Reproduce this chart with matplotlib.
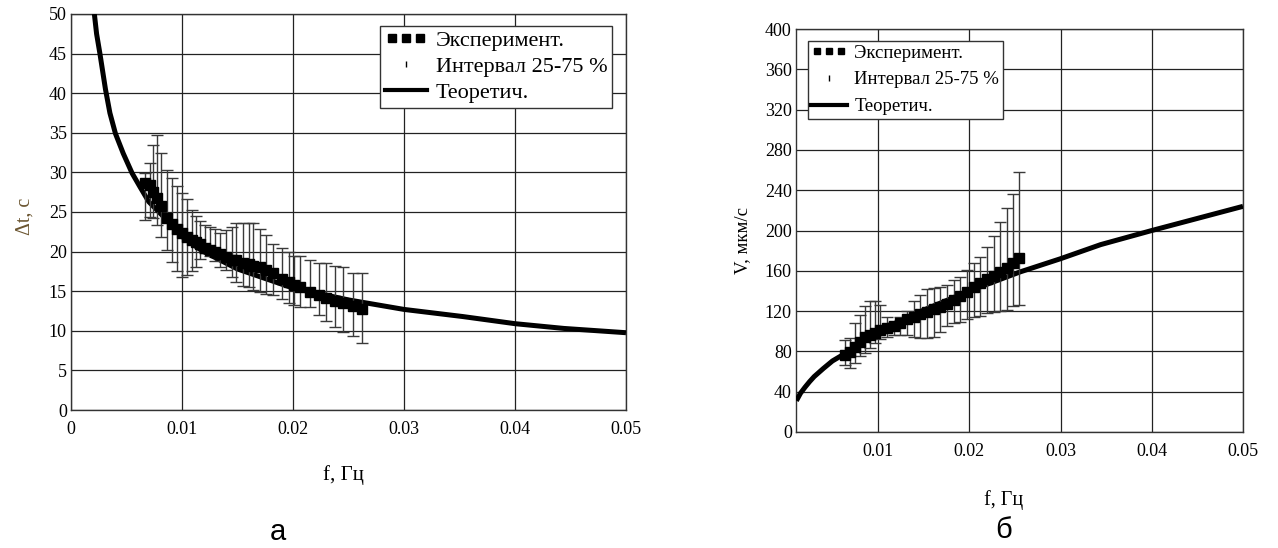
import matplotlib
matplotlib.use('Agg')
import numpy as np
import matplotlib.pyplot as plt
from matplotlib.lines import Line2D
from matplotlib.legend_handler import HandlerLine2D

plt.rc('font', family='Liberation Serif', size=11)

# --- panel a: delay vs frequency ---
f_theory_a = [0.0021, 0.0023, 0.0026, 0.0031, 0.0035, 0.0040, 0.0047, 0.0055, 0.0062, 0.0070,
              0.0082, 0.0100, 0.0118, 0.0150, 0.0200, 0.0250, 0.0300, 0.0353, 0.0400,
              0.0444, 0.0500]
dt_theory = [50, 47.5, 45, 40.5, 37.5, 34.9, 32.4, 29.9, 28.2, 26.3,
             24.6, 21.9, 20.1, 17.8, 15.4, 13.9, 12.7, 11.8, 10.9,
             10.3, 9.76]

f_exp_a = [0.00667, 0.00712, 0.00742, 0.00772, 0.00808, 0.00862, 0.00907, 0.00958, 0.00997,
           0.01042, 0.01087, 0.01126, 0.01162, 0.01207, 0.01252, 0.01297, 0.01342, 0.0140,
           0.0145, 0.0149, 0.0155, 0.0160, 0.0164, 0.0170, 0.0176, 0.0182, 0.0190, 0.0196,
           0.0201, 0.0206, 0.0215, 0.0223, 0.0230, 0.0238, 0.0245, 0.0254, 0.0262]
dt_med = [28.7, 28.4, 27.5, 26.8, 25.8, 24.3, 23.5, 22.8, 22.4,
          21.9, 21.5, 21.2, 20.9, 20.5, 20.2, 20.0, 19.7, 19.3,
          19.0, 18.9, 18.6, 18.4, 18.2, 18.0, 17.7, 17.3, 16.6, 16.1,
          15.8, 15.5, 14.9, 14.5, 14.2, 13.8, 13.5, 13.1, 12.7]
dt_q25 = [24.0, 24.4, 24.3, 23.4, 21.9, 20.2, 18.7, 17.5, 16.8,
          17.0, 17.5, 18.1, 19.1, 19.8, 19.4, 18.8, 18.0, 17.7,
          16.8, 16.2, 15.6, 15.5, 15.2, 14.9, 14.7, 14.5, 14.0, 13.5,
          13.3, 13.0, 13.0, 12.0, 11.2, 10.5, 9.9, 9.3, 8.4]
dt_q75 = [29.9, 31.2, 33.4, 34.7, 32.4, 30.3, 29.3, 28.3, 27.4,
          26.6, 25.3, 24.5, 23.9, 23.4, 23.1, 22.9, 22.4, 22.7,
          23.1, 23.6, 23.6, 23.6, 23.6, 22.9, 22.1, 21.0, 20.4, 19.9,
          19.4, 19.4, 18.9, 18.6, 18.5, 18.2, 18.0, 17.3, 17.3]

# --- panel b: velocity vs frequency ---
f_theory_b = [0.00105, 0.0015, 0.002, 0.0025, 0.003, 0.004, 0.005, 0.0064, 0.008, 0.010,
              0.0125, 0.015, 0.020, 0.0256, 0.030, 0.0344, 0.040, 0.045, 0.050]
v_theory = [31, 38.5, 44.5, 50, 55, 63, 70.5, 78, 88.5, 99,
            111, 121, 140, 159, 172, 186, 200, 212, 224]

f_exp_b = [0.00642, 0.00697, 0.00751, 0.00806, 0.00861, 0.00916, 0.00970, 0.01025, 0.01098,
           0.01171, 0.01244, 0.01318, 0.0139, 0.01463, 0.01537, 0.0161, 0.01682, 0.01756,
           0.01828, 0.01901, 0.01975, 0.02047, 0.0212, 0.02194, 0.02266, 0.0234, 0.02413,
           0.02479, 0.02548]
v_med = [76.4, 79.7, 84.7, 89.6, 94.0, 96.3, 98.6, 101.2, 103.5,
         105.5, 107.9, 111.9, 114.4, 117.1, 119.4, 121.8, 124.4, 127.0,
         131.0, 135.0, 139.3, 144.2, 147.6, 151.6, 154.8, 159.1, 162.5,
         167.4, 173.0]
v_q25 = [66.5, 63.2, 68.2, 75.4, 78.0, 83.0, 88.0, 92.0, 94.6,
         96.3, 96.3, 96.3, 94.0, 93.0, 93.0, 94.6, 99.6, 105.2,
         108.5, 109.5, 111.9, 113.8, 115.4, 117.8, 119.4, 120.4, 121.0,
         125.0, 126.0]
v_q75 = [91.3, 93.0, 107.9, 116.0, 125.0, 130.0, 130.0, 126.0, 113.8,
         109.0, 114.4, 120.0, 130.0, 136.0, 141.6, 142.6, 144.2, 145.9,
         150.9, 154.2, 160.8, 167.4, 174.0, 184.0, 195.0, 208.0, 222.0,
         236.0, 258.0]

legend_labels = ['Эксперимент.', 'Интервал 25-75 %', 'Теоретич.']


def draw_panel(ax, f_th, y_th, f_ex, med, lo, hi):
    med = np.array(med)
    err = [med - np.array(lo), np.array(hi) - med]
    ax.plot(f_th, y_th, color='black', lw=3.6, solid_capstyle='butt',
            solid_joinstyle='round', zorder=3)
    ax.errorbar(f_ex, med, yerr=err, fmt='none', ecolor='#3a3a3a',
                elinewidth=1, capsize=4, capthick=1, zorder=4)
    ax.plot(f_ex, med, 's', color='black', ms=6.5, zorder=5)
    ax.grid(True, color='#222222', lw=0.9)
    ax.set_axisbelow(True)
    ax.tick_params(length=0, labelsize=13)
    for sp in ax.spines.values():
        sp.set_color('#333333')
        sp.set_linewidth(1)


def add_legend(ax, loc, anchor, fs, hl, ls, ms):
    h_exp = Line2D([], [], ls='none', marker='s', color='black', ms=ms)
    h_int = Line2D([], [], ls='none', marker='$\\mathrm{I}$', color='black', ms=4)
    h_th = Line2D([], [], color='black', lw=3)
    leg = ax.legend([h_exp, h_int, h_th], legend_labels, loc=loc, bbox_to_anchor=anchor,
                    borderaxespad=0, fontsize=fs, numpoints=1,
                    handler_map={h_exp: HandlerLine2D(numpoints=3)},
                    handlelength=hl, handletextpad=0.4, labelspacing=ls,
                    borderpad=0.2, fancybox=False, framealpha=1, edgecolor='#333333')
    leg.get_frame().set_linewidth(1)
    leg.set_zorder(10)


fig = plt.figure(figsize=(12.78, 5.48), dpi=100)
ax1 = fig.add_axes([0.0556, 0.2518, 0.4342, 0.7227])
ax2 = fig.add_axes([0.6228, 0.2117, 0.3498, 0.7353])

draw_panel(ax1, f_theory_a, dt_theory, f_exp_a, dt_med, dt_q25, dt_q75)
ax1.set_xlim(0, 0.05)
ax1.set_ylim(0, 50)
ax1.set_xticks([0, 0.01, 0.02, 0.03, 0.04, 0.05])
ax1.set_xticklabels(['0', '0.01', '0.02', '0.03', '0.04', '0.05'])
ax1.set_yticks(range(0, 51, 5))
ax1.tick_params(axis='x', pad=8)
ax1.tick_params(axis='y', pad=3)
ax1.set_xlabel('f, Гц', fontsize=15)
ax1.xaxis.set_label_coords(0.49, -0.14)
ax1.set_ylabel('Δt, c', fontsize=14.5, color='#6b5530')
ax1.yaxis.set_label_coords(-0.066, 0.49)
add_legend(ax1, 'upper right', (0.975, 0.970), 16, 1.9, 0.25, 5.5)

draw_panel(ax2, f_theory_b, v_theory, f_exp_b, v_med, v_q25, v_q75)
ax2.set_xlim(0.001, 0.05)
ax2.set_ylim(0, 400)
ax2.set_xticks([0.01, 0.02, 0.03, 0.04, 0.05])
ax2.set_xticklabels(['0.01', '0.02', '0.03', '0.04', '0.05'])
ax2.set_yticks(range(0, 401, 40))
ax2.tick_params(axis='x', pad=8)
ax2.tick_params(axis='y', pad=3)
ax2.set_xlabel('f, Гц', fontsize=14.5)
ax2.xaxis.set_label_coords(0.465, -0.145)
ax2.set_ylabel('V, мкм/с', fontsize=13.5)
ax2.yaxis.set_label_coords(-0.1, 0.476)
add_legend(ax2, 'upper left', (0.026, 0.971), 13.5, 1.9, 0.52, 5)

fig.text(0.2175, 0.029, 'а', fontsize=21, family='Liberation Sans', ha='center', va='center')
fig.text(0.785, 0.033, 'б', fontsize=21, family='Liberation Sans', ha='center', va='center')

fig.savefig('out.png', dpi=100)
